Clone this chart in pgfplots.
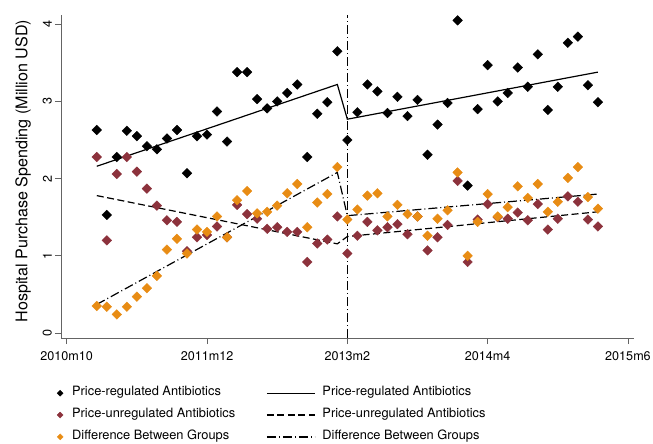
\documentclass[border=0pt]{standalone}
\usepackage{fontspec}
\setmainfont{TeX Gyre Heros}
\usepackage{pgfplots}
\pgfplotsset{compat=1.18}
\usepackage{pgfplotstable}

\definecolor{regc}{RGB}{0,0,0}
\definecolor{unregc}{RGB}{140,50,60}
\definecolor{diffc}{RGB}{232,140,20}
\definecolor{axisc}{RGB}{100,100,100}

\pgfplotsset{
  mark legend/.style={legend image code/.code={\draw[##1, mark size=2.1bp] plot coordinates {(0bp,0bp)};}},
  long legend/.style={legend image code/.code={\draw[##1] (0bp,0bp) -- (48bp,0bp);}},
  diamonds/.style={only marks, mark=square*, mark size=3.4bp, color=#1, mark options={rotate=45}, mark legend},
}

% m = months since 2010m10
\pgfplotstableread{
m  reg   unreg  diff
3  2.63  2.28  0.35
4  1.53  1.20  0.34
5  2.28  2.06  0.24
6  2.62  2.28  0.34
7  2.55  2.09  0.47
8  2.42  1.87  0.58
9  2.38  1.65  0.74
10 2.52  1.46  1.08
11 2.63  1.44  1.22
12 2.07  1.06  1.03
13 2.55  1.24  1.34
14 2.57  1.27  1.31
15 2.87  1.38  1.51
16 2.48  1.24  1.24
17 3.38  1.66  1.72
18 3.38  1.54  1.84
19 3.03  1.48  1.55
20 2.91  1.35  1.57
21 3.00  1.37  1.65
22 3.11  1.31  1.81
23 3.22  1.31  1.93
24 2.28  0.92  1.37
25 2.84  1.16  1.69
26 2.99  1.21  1.80
27 3.65  1.51  2.15
28 2.50  1.03  1.47
29 2.86  1.26  1.60
30 3.22  1.44  1.78
31 3.13  1.33  1.81
32 2.85  1.37  1.51
33 3.06  1.41  1.66
34 2.81  1.28  1.54
35 3.02  1.51  1.51
36 2.31  1.07  1.26
37 2.70  1.24  1.48
38 2.98  1.40  1.59
39 4.05  1.97  2.08
40 1.91  0.92  1.00
41 2.90  1.47  1.44
42 3.47  1.67  1.80
43 3.00  1.50  1.51
44 3.11  1.48  1.63
45 3.44  1.56  1.90
46 3.19  1.46  1.75
47 3.61  1.67  1.93
48 2.89  1.34  1.57
49 3.19  1.48  1.70
50 3.76  1.77  2.01
51 3.84  1.70  2.15
52 3.21  1.47  1.76
53 2.99  1.38  1.61
}\spend

% fitted values, break at 2013m2
\pgfplotstableread{
m  reg   unreg  diff
3  2.16  1.78   0.37
27 3.22  1.155  2.08
28 2.77  1.25   1.52
53 3.38  1.57   1.80
}\fitted

\begin{document}
\begin{tikzpicture}[font=\fontsize{12.6bp}{15bp}\selectfont]
\begin{axis}[
  at={(0,0)}, anchor=south west,
  scale only axis, width=573bp, height=323bp,
  xmin=-0.57, xmax=56.6, ymin=-0.065, ymax=4.12,
  axis x line*=bottom, axis y line*=left,
  axis line style={axisc, line width=0.8bp, -},
  tick align=outside, major tick length=6bp,
  tick style={axisc, line width=0.8bp},
  xtick={0,14,28,42,56},
  xticklabels={2010m10,2011m12,2013m2,2014m4,2015m6},
  ytick={0,1,2,3,4},
  /pgf/number format/assume math mode=true,
  yticklabel style={xshift=-3bp, rotate=90, anchor=south, inner sep=0pt},
  xticklabel style={yshift=-7bp, anchor=north, inner sep=0pt},
  ylabel={Hospital Purchase Spending (Million USD)},
  ylabel style={at={(axis description cs:-0.066,0.517)}, anchor=center,
    font=\fontsize{16.1bp}{19bp}\selectfont},
  legend style={at={(axis description cs:0,0)}, anchor=north west,
    xshift=-4bp, yshift=-50bp, draw=none, fill=none, inner sep=0pt,
    row sep=11.9bp, font=\fontsize{12.85bp}{15bp}\selectfont,
    nodes={inner sep=0pt, text height=0.75em, text depth=0.25em},
    /tikz/column 1/.style={column sep=9bp},
    /tikz/column 2/.style={column sep=31bp},
    /tikz/column 3/.style={column sep=7bp}},
  legend columns=2, legend cell align=left,
]
\addplot[forget plot, black, line width=1bp,
  dash pattern=on 9bp off 3bp on 1bp off 3bp]
  coordinates {(28,-0.065) (28,4.12)};

\addplot[diamonds=regc] table[x=m, y=reg]{\spend};
\addlegendentry{Price-regulated Antibiotics}
\addplot[black, line width=1.2bp, long legend] table[x=m, y=reg]{\fitted};
\addlegendentry{Price-regulated Antibiotics}

\addplot[diamonds=unregc] table[x=m, y=unreg]{\spend};
\addlegendentry{Price-unregulated Antibiotics}
\addplot[black, line width=1.2bp, dash pattern=on 7bp off 3.5bp, long legend]
  table[x=m, y=unreg]{\fitted};
\addlegendentry{Price-unregulated Antibiotics}

\addplot[diamonds=diffc] table[x=m, y=diff]{\spend};
\addlegendentry{Difference Between Groups}
\addplot[black, line width=1.2bp, dash pattern=on 9bp off 3bp on 1bp off 3bp, long legend]
  table[x=m, y=diff]{\fitted};
\addlegendentry{Difference Between Groups}
\end{axis}
\pgfresetboundingbox
\path (-61bp,-106bp) rectangle (592bp,338bp);
\end{tikzpicture}
\end{document}
